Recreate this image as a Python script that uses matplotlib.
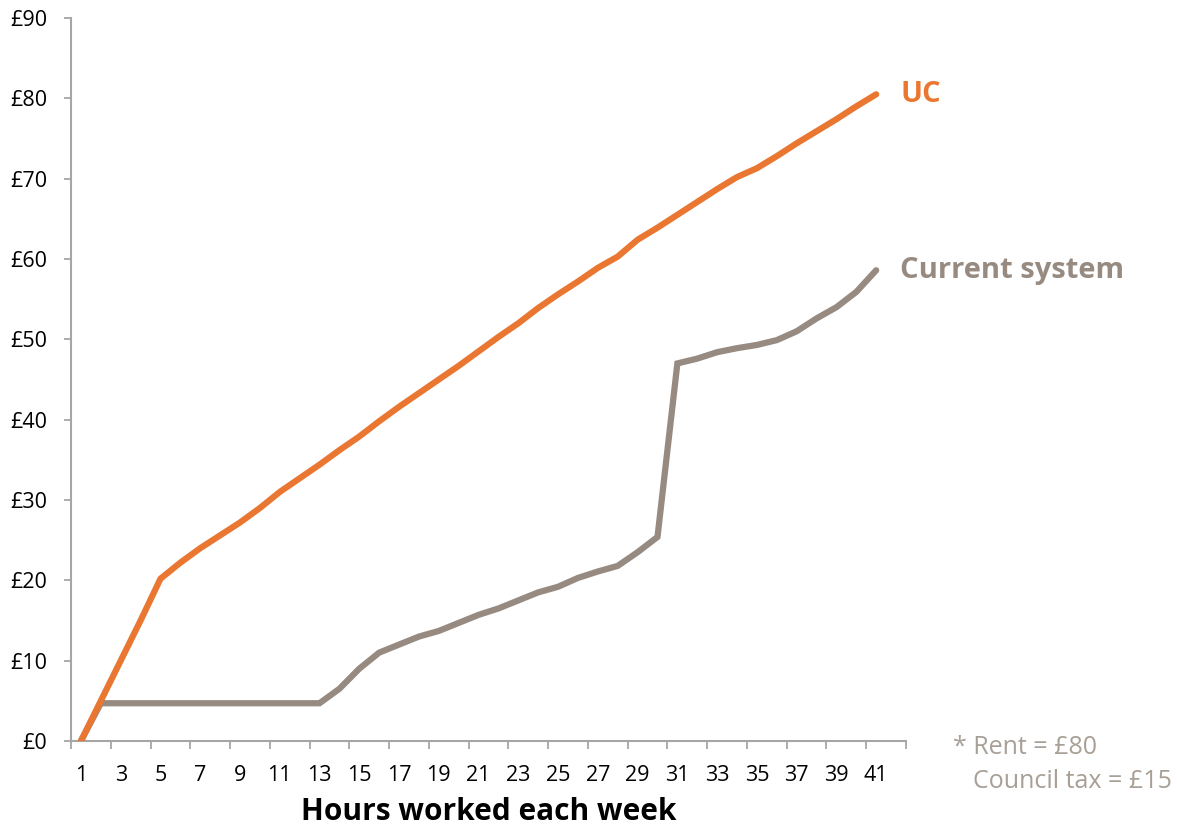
import matplotlib
matplotlib.use("Agg")
import matplotlib.pyplot as plt
import numpy as np

plt.rcParams['font.family'] = ['Open Sans', 'DejaVu Sans']

# Hours worked each week (categories 1..42, data for 1..41)
hours = list(range(1, 42))
n_categories = 42

uc = [0, 5, 10, 15, 20.2, 22.2, 24, 25.6, 27.2, 29, 31, 32.7, 34.4, 36.2, 37.9,
      39.8, 41.6, 43.3, 45, 46.7, 48.5, 50.3, 52, 53.9, 55.6, 57.2, 58.9, 60.3,
      62.4, 63.9, 65.5, 67.1, 68.7, 70.2, 71.3, 72.8, 74.4, 75.9, 77.4, 79, 80.5]

current = [0, 4.7, 4.7, 4.7, 4.7, 4.7, 4.7, 4.7, 4.7, 4.7, 4.7, 4.7, 4.7, 6.5,
           9.0, 11.0, 12.0, 13.0, 13.7, 14.7, 15.7, 16.5, 17.5, 18.5, 19.2, 20.3,
           21.1, 21.8, 23.5, 25.4, 47.0, 47.6, 48.4, 48.9, 49.3, 49.9, 51.0, 52.6,
           54.0, 55.9, 58.6]

y_ticks = list(range(0, 91, 10))
y_labels = ["£%d" % v for v in y_ticks]
x_labels = [str(h) for h in range(1, 42, 2)]

orange = "#EA7731"
grey = "#978B81"
axis_grey = "#A6A6A6"

fig = plt.figure(figsize=(11.77, 8.25), dpi=100)
ax = fig.add_axes([71 / 1177, 84 / 825, 835 / 1177, 723 / 825])

ax.plot(hours, current, color=grey, lw=4.5, solid_capstyle='round',
        solid_joinstyle='miter', zorder=3)
ax.plot(hours, uc, color=orange, lw=4.5, solid_capstyle='round',
        solid_joinstyle='miter', zorder=4)

ax.set_xlim(0.5, n_categories + 0.5)
ax.set_ylim(0, 90)

# y axis
ax.set_yticks(y_ticks)
ax.set_yticklabels(y_labels, fontsize=15.5, color="black")
ax.tick_params(axis='y', length=5, width=1.3, color=axis_grey, pad=12)

# x axis: tick marks between categories every two, labels on odd hours
ax.set_xticks(np.arange(0.5, n_categories + 1, 2))
ax.set_xticklabels([])
ax.tick_params(axis='x', which='major', length=6, width=1.3, color=axis_grey,
               direction='out')
ax.set_xticks(range(1, 42, 2), minor=True)
ax.set_xticklabels(x_labels, minor=True, fontsize=15.5, color="black")
ax.tick_params(axis='x', which='minor', length=0, pad=17)

for side in ['top', 'right']:
    ax.spines[side].set_visible(False)
for side in ['left', 'bottom']:
    ax.spines[side].set_color(axis_grey)
    ax.spines[side].set_linewidth(1.5)

ax.set_xlabel("Hours worked each week", fontsize=21.5, fontweight='bold',
              labelpad=8, color="black")

# series labels
ax.text(42.2, uc[-1], "UC", color=orange, fontsize=21, fontweight='bold',
        va='center', ha='left', clip_on=False)
ax.text(42.2, current[-1], "Current system", color=grey, fontsize=21,
        fontweight='bold', va='center', ha='left', clip_on=False)

fig.text(953 / 1177, 1 - 748 / 825, "* Rent = £80", color="#A89F96",
         fontsize=18, va='center', ha='left')
fig.text(973 / 1177, 1 - 781 / 825, "Council tax = £15", color="#A89F96",
         fontsize=18, va='center', ha='left')

fig.savefig("out.png", dpi=100)
